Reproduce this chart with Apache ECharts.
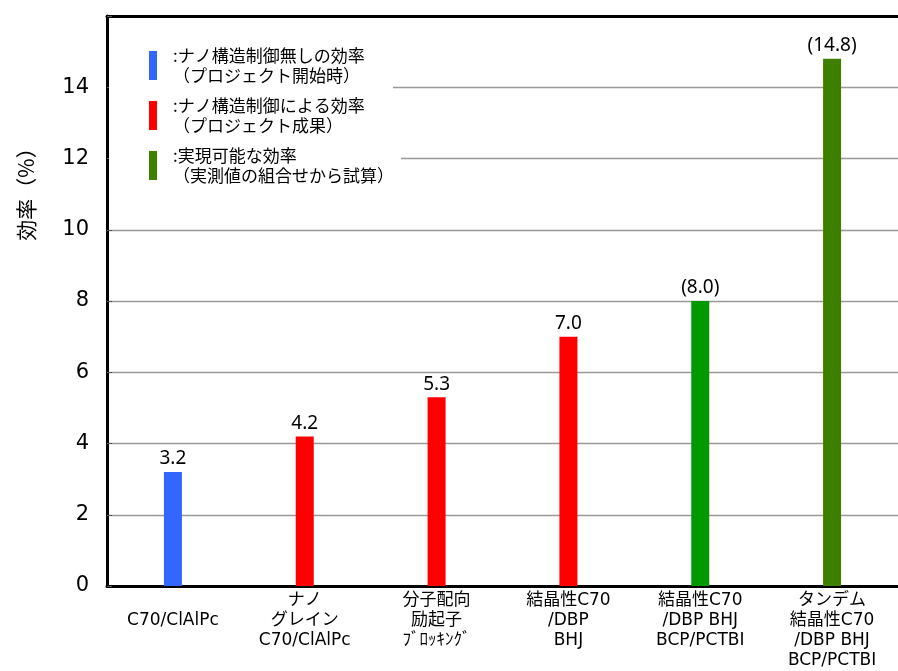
<!DOCTYPE html>
<html>
<head>
<meta charset="utf-8">
<script src="https://cdn.jsdelivr.net/npm/echarts@6/dist/echarts.min.js"></script>
<style>html,body{margin:0;padding:0;background:#fff;}#c{width:898px;height:671px;}</style>
</head>
<body>
<div id="c"></div>
<script>
const categories = ['\nC70/ClAlPc', 'ナノ\nグレイン\nC70/ClAlPc', '分子配向\n励起子\nﾌﾞﾛｯｷﾝｸﾞ', '結晶性C70\n/DBP\nBHJ', '結晶性C70\n/DBP BHJ\nBCP/PCTBI', 'タンデム\n結晶性C70\n/DBP BHJ\nBCP/PCTBI'];
const values = [3.2, 4.2, 5.3, 7.0, 8.0, 14.8];
const valueLabels = ['3.2', '4.2', '5.3', '7.0', '(8.0)', '(14.8)'];
const barColors = ['#3366FF', '#FF0000', '#FF0000', '#FF0000', '#009900', '#3F7F00'];
const legendColors = ['#3366FF', '#FF0000', '#3F7F00'];
const legendTexts = [':ナノ構造制御無しの効率\n（プロジェクト開始時）', ':ナノ構造制御による効率\n（プロジェクト成果）', ':実現可能な効率\n（実測値の組合せから試算）'];
const yTickMin = 0, yTickMax = 16, yTickStep = 2;
const yAxisName = '効率（%）';

const latin = 'DejaVu Sans, Noto Sans CJK JP, sans-serif';
const cjk = 'Noto Sans CJK JP, sans-serif';

const chart = echarts.init(document.getElementById('c'), null, {renderer: 'canvas', width: 898, height: 671});

const legendGraphics = [];
legendTexts.forEach((t, i) => {
  const cy = 65 + i * 50;
  legendGraphics.push({type: 'rect', left: 149, top: cy - 14, shape: {width: 8, height: 29}, style: {fill: legendColors[i]}, z: 101});
  legendGraphics.push({type: 'text', x: 173, y: cy + 1, style: {text: t, font: '17px ' + cjk, fill: '#000', textAlign: 'left', textVerticalAlign: 'middle', lineHeight: 20}, z: 101});
});

chart.setOption({
  animation: false,
  backgroundColor: '#fff',
  grid: {left: 107, right: -1, top: 16, height: 574, containLabel: false},
  xAxis: [{
    type: 'category', data: categories, position: 'bottom',
    axisLine: {lineStyle: {color: '#000', width: 3}},
    axisTick: {show: false},
    axisLabel: {interval: 0, color: '#000', fontFamily: latin, fontSize: 17, lineHeight: 20, margin: 5, verticalAlign: 'top'}
  }, {
    type: 'category', data: categories, position: 'top',
    axisLine: {lineStyle: {color: '#000', width: 3}},
    axisTick: {show: false}, axisLabel: {show: false}
  }],
  yAxis: {
    type: 'value', min: yTickMin, max: yTickMax, interval: yTickStep,
    axisLine: {show: true, lineStyle: {color: '#000', width: 3}},
    axisTick: {show: true, inside: true, length: 5, lineStyle: {color: '#555', width: 1}},
    axisLabel: {color: '#000', fontFamily: latin, fontSize: 21, margin: 18, formatter: v => (v === yTickMax ? '' : String(v))},
    splitLine: {show: true, lineStyle: {color: '#999', width: 1.3}}
  },
  graphic: [
    {type: 'rect', left: 109, top: 70, shape: {width: 284, height: 40}, style: {fill: '#fff'}, z: 100},
    {type: 'rect', left: 109, top: 140, shape: {width: 292, height: 40}, style: {fill: '#fff'}, z: 100},
    {type: 'text', x: 26, y: 189, rotation: Math.PI / 2, style: {text: yAxisName, font: '21px ' + cjk, fill: '#000', textAlign: 'center', textVerticalAlign: 'middle'}, z: 101}
  ].concat(legendGraphics),
  series: [{
    type: 'bar', barWidth: 18, xAxisIndex: 0,
    data: values.map((v, i) => ({value: v, itemStyle: {color: barColors[i]}, label: {formatter: valueLabels[i]}})),
    label: {show: true, position: 'top', distance: 3, color: '#000', fontFamily: 'Noto Sans, sans-serif', fontSize: 19, lineHeight: 20}
  }]
});
</script>
</body>
</html>
